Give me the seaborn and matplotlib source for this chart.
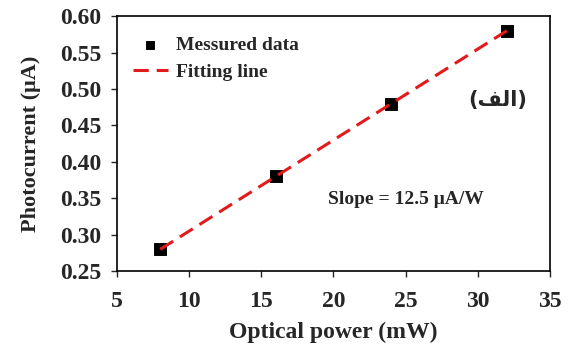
import numpy as np
import pandas as pd
import matplotlib
matplotlib.use("Agg")
import matplotlib.pyplot as plt
import seaborn as sns

# Measured photocurrent vs optical power
power_mw = [8, 16, 24, 32]
current_ua = [0.28, 0.38, 0.48, 0.58]
x_ticks = [5, 10, 15, 20, 25, 30, 35]
y_ticks = [0.25, 0.30, 0.35, 0.40, 0.45, 0.50, 0.55, 0.60]

sns.set_theme(style="white")
plt.rcParams["font.family"] = ["Liberation Serif", "DejaVu Sans"]
plt.rcParams["font.weight"] = "bold"

df = pd.DataFrame({"power": power_mw, "current": current_ua})

# Linear least-squares fit through the measured points
slope, intercept = np.polyfit(df["power"], df["current"], 1)
df["fit"] = slope * df["power"] + intercept

fig, ax = plt.subplots(figsize=(5.73, 3.45), dpi=100)
fig.subplots_adjust(left=0.204, right=0.96, top=0.953, bottom=0.214)

sns.scatterplot(data=df, x="power", y="current", marker="s", s=70,
                color="black", edgecolor="black", ax=ax,
                label="Messured data", zorder=3)
sns.lineplot(data=df, x="power", y="fit", color="#e31a1c", lw=2.2,
             ax=ax, label="Fitting line", zorder=4)
ax.lines[-1].set_linestyle((0, (5, 2.6)))

ax.set_xlim(5, 35)
ax.set_ylim(0.25, 0.60)
ax.set_xticks(x_ticks)
ax.set_yticks(y_ticks)
ax.set_xticklabels([str(v) for v in x_ticks])
ax.set_yticklabels([f"{v:.2f}" for v in y_ticks])
ax.tick_params(axis="both", labelsize=17, length=4, width=1,
               direction="out", bottom=True, left=True)
ax.tick_params(axis="x", pad=10)
ax.tick_params(axis="y", pad=7)
for lab in ax.get_xticklabels() + ax.get_yticklabels():
    lab.set_fontweight("bold")
for sp in ax.spines.values():
    sp.set_color("black")
    sp.set_linewidth(1.2)

ax.set_xlabel("Optical power (mW)", fontsize=17, fontweight="bold", labelpad=7)
ax.set_ylabel("Photocurrent (\u03bcA)", fontsize=16, fontweight="bold", labelpad=14)

leg = ax.legend(loc="upper left", frameon=False, fontsize=14,
                handlelength=1.8, bbox_to_anchor=(0.005, 0.975),
                borderaxespad=0.3, labelspacing=0.5, handletextpad=0.45,
                markerscale=0.65)
for t in leg.get_texts():
    t.set_fontweight("bold")

ax.text(0.487, 0.28, "Slope = 12.5 \u03bcA/W", transform=ax.transAxes,
        fontsize=14, fontweight="bold", ha="left", va="center")
ax.text(0.947, 0.67, "(\ufed2\ufedf\ufe8d)", transform=ax.transAxes,
        fontsize=15, fontweight="bold", ha="right", va="center",
        family=["DejaVu Sans"])

fig.savefig("out.png", dpi=100)
